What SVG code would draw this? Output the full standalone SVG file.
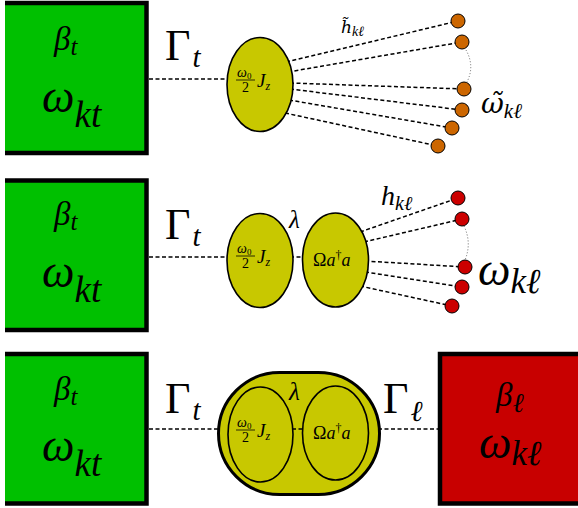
<svg xmlns="http://www.w3.org/2000/svg" width="578" height="508" viewBox="0 0 578 508">
  <style>
    .m { font-family: "Liberation Serif", "DejaVu Serif", serif; font-style: italic; fill: #000; }
    .t { font-family: "DejaVu Serif", "Liberation Serif", serif; font-style: italic; fill: #000; }
    .u { font-family: "Liberation Serif", "DejaVu Serif", serif; font-style: normal; fill: #000; }
    .mi { font-family: "Liberation Serif", "DejaVu Serif", serif; font-style: italic; }
    .bath-g { fill: #00C000; }
    .bath-r { fill: #C80000; }
    .frame { fill: none; stroke: #000; stroke-width: 4.5; }
    .spin { fill: #C8C800; stroke: #000; stroke-width: 1.6; }
    .dash { stroke: #000; stroke-width: 1.5; stroke-dasharray: 4 2.5; fill: none; }
    .dots { stroke: #555; stroke-width: 0.9; stroke-dasharray: 1 2; fill: none; }
    .mode-o { fill: #CC6600; stroke: #000; stroke-width: 1; }
    .mode-r { fill: #CC0000; stroke: #000; stroke-width: 1; }
    .bar { stroke: #000; stroke-width: 0.8; }
  </style>

  <!-- connectors -->
  <g id="connectors">
    <!-- row 1 -->
    <line class="dash" x1="149" y1="79" x2="229" y2="79"/>
    <line class="dash" x1="286" y1="62" x2="458" y2="21"/>
    <line class="dash" x1="288" y1="72" x2="462" y2="42"/>
    <line class="dash" x1="290" y1="83" x2="464" y2="89"/>
    <line class="dash" x1="290" y1="89" x2="462" y2="110"/>
    <line class="dash" x1="289" y1="100" x2="452" y2="128"/>
    <line class="dash" x1="285" y1="113" x2="438" y2="146"/>
    <path class="dots" d="M466,50 Q475,66 467,82"/>
    <!-- row 2 -->
    <line class="dash" x1="149" y1="257" x2="229" y2="257"/>
    <line class="dash" x1="290" y1="257" x2="305" y2="257"/>
    <line class="dash" x1="360" y1="232" x2="458" y2="198"/>
    <line class="dash" x1="364" y1="242" x2="462" y2="219"/>
    <line class="dash" x1="365" y1="261" x2="465" y2="267"/>
    <line class="dash" x1="365" y1="272" x2="462" y2="287"/>
    <line class="dash" x1="360" y1="286" x2="452" y2="306"/>
    <path class="dots" d="M464,226 Q472,243 465,260"/>
    <!-- row 3 -->
    <line class="dash" x1="149" y1="429" x2="220" y2="429"/>
    <line class="dash" x1="378" y1="429" x2="438" y2="429"/>
  </g>

  <!-- row 1 -->
  <g id="bath1">
    <rect class="bath-g" x="5" y="3" width="142" height="150"/>
    <path class="frame" d="M5,3 H146.5 V153 H5"/>
    <text class="m" x="54" y="50" font-size="33">β<tspan font-size="25" dy="5">t</tspan></text>
    <text class="m" x="42" y="112" font-size="46">ω<tspan font-size="37" dy="15">kt</tspan></text>
  </g>
  <g id="gamma1">
    <text class="u" x="165" y="60" font-size="44">Γ<tspan class="mi" font-size="29" dy="7" dx="2">t</tspan></text>
  </g>
  <g id="spin1">
    <ellipse class="spin" cx="260" cy="84.5" rx="33" ry="47"/>
    <text class="m" x="237" y="77" font-size="14">ω<tspan class="u" font-size="9" dy="2">0</tspan></text>
    <line class="bar" x1="236" y1="80" x2="255" y2="80"/>
    <text class="u" x="245.5" y="92" font-size="14" text-anchor="middle">2</text>
    <text class="m" x="257" y="87" font-size="19">J<tspan font-size="12" dy="3">z</tspan></text>
  </g>
  <g id="modes1">
    <circle class="mode-o" cx="458" cy="21" r="7"/>
    <circle class="mode-o" cx="462" cy="42" r="7"/>
    <circle class="mode-o" cx="464" cy="89" r="7"/>
    <circle class="mode-o" cx="462" cy="110" r="7"/>
    <circle class="mode-o" cx="452" cy="128" r="7"/>
    <circle class="mode-o" cx="438" cy="146" r="7"/>
  </g>
  <g id="label-h1">
    <text class="t" x="341" y="33" font-size="17">h̃<tspan class="mi" font-size="14" dy="3">kℓ</tspan></text>
  </g>
  <g id="label-w1">
    <text class="t" x="481" y="113" font-size="28">ω̃<tspan class="mi" font-size="21" dy="5">kℓ</tspan></text>
  </g>

  <!-- row 2 -->
  <g id="bath2">
    <rect class="bath-g" x="5" y="180" width="142" height="150"/>
    <path class="frame" d="M5,180.5 H146.5 V330 H5"/>
    <text class="m" x="54" y="225" font-size="33">β<tspan font-size="25" dy="5">t</tspan></text>
    <text class="m" x="42" y="287" font-size="46">ω<tspan font-size="37" dy="15">kt</tspan></text>
  </g>
  <g id="gamma2">
    <text class="u" x="165" y="239" font-size="44">Γ<tspan class="mi" font-size="29" dy="7" dx="2">t</tspan></text>
  </g>
  <g id="spin2">
    <ellipse class="spin" cx="260" cy="260.5" rx="33" ry="47"/>
    <text class="m" x="237" y="253" font-size="14">ω<tspan class="u" font-size="9" dy="2">0</tspan></text>
    <line class="bar" x1="236" y1="256" x2="255" y2="256"/>
    <text class="u" x="245.5" y="268" font-size="14" text-anchor="middle">2</text>
    <text class="m" x="257" y="263" font-size="19">J<tspan font-size="12" dy="3">z</tspan></text>
  </g>
  <g id="lambda2">
    <text class="m" x="289" y="228" font-size="25">λ</text>
  </g>
  <g id="cavity2">
    <ellipse class="spin" cx="335.5" cy="260" rx="33" ry="47"/>
    <text class="u" x="313" y="266" font-size="18">Ω<tspan class="mi" font-size="18">a</tspan><tspan font-size="12" dy="-7">†</tspan><tspan class="mi" font-size="18" dy="7">a</tspan></text>
  </g>
  <g id="modes2">
    <circle class="mode-r" cx="458" cy="198" r="7"/>
    <circle class="mode-r" cx="462" cy="219" r="7"/>
    <circle class="mode-r" cx="465" cy="267" r="7"/>
    <circle class="mode-r" cx="462" cy="287" r="7"/>
    <circle class="mode-r" cx="452" cy="306" r="7"/>
  </g>
  <g id="label-h2">
    <text class="m" x="381" y="205" font-size="28">h<tspan font-size="20" dy="5">kℓ</tspan></text>
  </g>
  <g id="label-w2">
    <text class="m" x="478" y="285" font-size="46">ω<tspan font-size="35" dy="8">kℓ</tspan></text>
  </g>

  <!-- row 3 -->
  <g id="bath3">
    <rect class="bath-g" x="5" y="354" width="142" height="150"/>
    <path class="frame" d="M5,354 H146.5 V503.5 H5"/>
    <text class="m" x="54" y="400" font-size="33">β<tspan font-size="25" dy="5">t</tspan></text>
    <text class="m" x="42" y="461" font-size="46">ω<tspan font-size="37" dy="15">kt</tspan></text>
  </g>
  <g id="gamma3">
    <text class="u" x="165" y="413" font-size="44">Γ<tspan class="mi" font-size="29" dy="7" dx="2">t</tspan></text>
  </g>
  <g id="hybrid3">
    <rect x="218.5" y="372.5" width="161" height="122" rx="61" ry="61" fill="#C8C800" stroke="#000" stroke-width="3"/>
    <line class="dash" x1="292" y1="429" x2="304" y2="429"/>
    <ellipse cx="260.5" cy="434.5" rx="32.5" ry="47.5" fill="none" stroke="#000" stroke-width="1.6"/>
    <ellipse cx="335.5" cy="433" rx="33" ry="47" fill="none" stroke="#000" stroke-width="1.6"/>
    <text class="m" x="237" y="427" font-size="14">ω<tspan class="u" font-size="9" dy="2">0</tspan></text>
    <line class="bar" x1="236" y1="430" x2="255" y2="430"/>
    <text class="u" x="245.5" y="442" font-size="14" text-anchor="middle">2</text>
    <text class="m" x="257" y="437" font-size="19">J<tspan font-size="12" dy="3">z</tspan></text>
    <text class="m" x="289" y="400" font-size="25">λ</text>
    <text class="u" x="313" y="439" font-size="18">Ω<tspan class="mi" font-size="18">a</tspan><tspan font-size="12" dy="-7">†</tspan><tspan class="mi" font-size="18" dy="7">a</tspan></text>
  </g>
  <g id="gamma-l3">
    <text class="u" x="383" y="413" font-size="44">Γ<tspan class="mi" font-size="29" dy="8" dx="2">ℓ</tspan></text>
  </g>
  <g id="bath-l3">
    <rect class="bath-r" x="440" y="354" width="140" height="150"/>
    <path class="frame" d="M580,354 H440 V503.5 H580"/>
    <text class="m" x="496" y="406" font-size="33">β<tspan font-size="27" dy="6">ℓ</tspan></text>
    <text class="m" x="479" y="458" font-size="46">ω<tspan font-size="35" dy="7">kℓ</tspan></text>
  </g>
</svg>
